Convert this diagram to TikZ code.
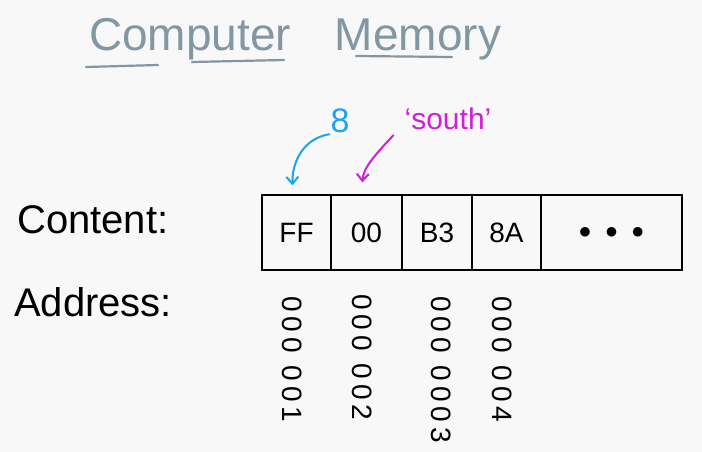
\documentclass[tikz,border=0pt]{standalone}
\usepackage{fontspec}
\setmainfont{Liberation Sans}
\newfontfamily\addrfont[LetterSpace=18]{Liberation Sans}
\usetikzlibrary{arrows.meta}
\definecolor{titlecol}{HTML}{8397A3}
\definecolor{bluecol}{HTML}{1EA3EC}
\definecolor{magcol}{HTML}{D21ED8}
\definecolor{bgcol}{HTML}{F8F8F8}
\tikzset{
  cell/.style={draw=black, line width=1.3pt, minimum height=75pt, inner sep=0pt, font=\fontsize{28}{30}\selectfont},
  lbl/.style={anchor=base west, inner sep=0pt, font=\fontsize{40}{44}\selectfont},
  addr/.style={rotate=-90, anchor=west, inner sep=0pt, font=\addrfont\fontsize{28}{30}\selectfont},
  ttl/.style={text=titlecol, inner sep=0pt, anchor=base, font=\fontsize{46}{50}\selectfont},
  uline/.style={draw=titlecol, line width=2.2pt, line cap=round},
  pointer/.style={line width=2pt, line cap=round, -{Straight Barb[length=7pt,width=12pt,line width=2pt]}},
}
\begin{document}
\begin{tikzpicture}[x=1pt,y=-1pt]
\fill[bgcol] (0,0) rectangle (702,452);
\useasboundingbox (0,0) rectangle (702,452);
% title
\node[ttl] (t1) at (190,51) {Computer};
\node[ttl] (t2) at (418,51) {Memory};
\coordinate (u1a) at (86,67); \coordinate (u1b) at (158,65);
\coordinate (u2a) at (192,62); \coordinate (u2b) at (284,60);
\coordinate (u3a) at (356,56); \coordinate (u3b) at (452,57);
\draw[uline] (u1a) -- (u1b);
\draw[uline] (u2a) -- (u2b);
\draw[uline] (u3a) -- (u3b);
% labels
\node[lbl] (content) at (17,233) {Content:};
\node[lbl] (address) at (14,316) {Address:};
% cells
\node[cell, minimum width=69pt] (c1) at (296.5,232.5) {FF};
\node[cell, minimum width=71pt] (c2) at (366.5,232.5) {00};
\node[cell, minimum width=70pt] (c3) at (437,232.5) {B3};
\node[cell, minimum width=69pt] (c4) at (506.5,232.5) {8A};
\node[cell, minimum width=141pt] (c5) at (611.5,232.5) {$\bullet$\hspace{14pt}$\bullet$\hspace{14pt}$\bullet$};
% pointers
\node[text=bluecol, inner sep=1pt, font=\fontsize{34}{36}\selectfont] (eight) at (340,121) {8};
\node[text=magcol, inner sep=1pt, font=\fontsize{30}{32}\selectfont] (south) at (448,119) {`south'};
\coordinate (b1) at ([xshift=-4pt,yshift=9pt]c1.north);
\coordinate (m1) at ([xshift=-4pt,yshift=12pt]c2.north);
\draw[bluecol, pointer] (eight.south west) .. controls (305,138) and (292,160) .. (b1);
\draw[magcol, pointer] ([xshift=-10pt,yshift=-4pt]south.south west) .. controls (375,155) and (363,168) .. (m1);
% addresses
\node[addr] (a1) at (292,296) {000 001};
\node[addr] (a2) at (362,294) {000 002};
\node[addr] (a3) at (441,296) {000 0003};
\node[addr] (a4) at (502,296) {000 004};
\end{tikzpicture}
\end{document}
